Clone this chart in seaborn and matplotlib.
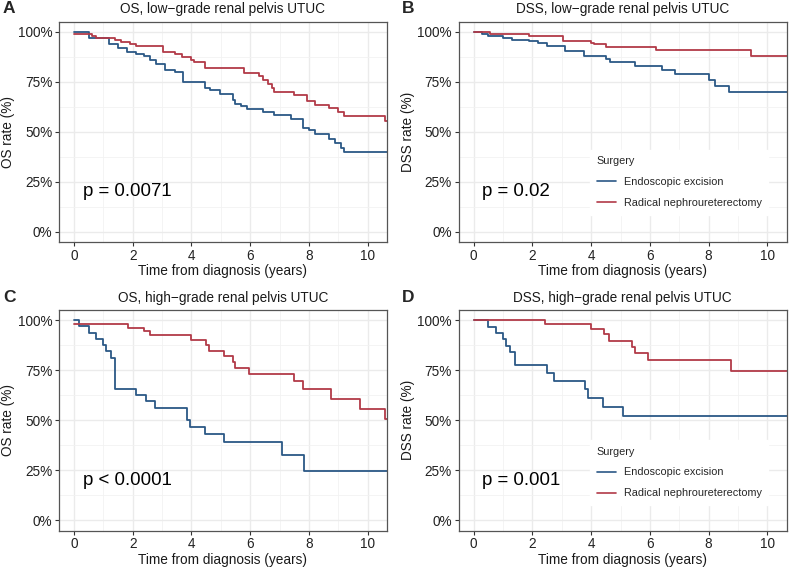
import matplotlib
matplotlib.use("Agg")
import matplotlib.pyplot as plt
from matplotlib.ticker import MultipleLocator, FuncFormatter
import numpy as np
import pandas as pd
import seaborn as sns

# datos (tiempo en anos, supervivencia en %)
groups = ["Endoscopic excision", "Radical nephroureterectomy"]
colores = {"Endoscopic excision": "#2B5886", "Radical nephroureterectomy": "#B23A48"}

os_low_endo_t = [0, 0.5, 1.2, 1.5, 1.8, 2.1, 2.4, 2.6, 2.8, 3.1, 3.45, 3.72, 4.46, 4.63, 4.97, 5.4, 5.5, 5.7, 5.9, 6.45, 6.8, 7.4, 7.8, 8.0, 8.2, 8.7, 8.9, 9.1, 9.2]
os_low_endo_s = [100, 97, 94, 92, 90, 89, 88, 86, 84, 81, 80, 75, 72, 71, 68.7, 66, 64, 63, 61.5, 60, 58.5, 56.5, 52, 51, 49, 46.5, 44.5, 42, 40]
os_low_rnu_t = [0, 0.6, 0.75, 1.4, 1.6, 1.9, 2.1, 3.04, 3.44, 3.67, 4.0, 4.09, 4.46, 5.8, 6.3, 6.45, 6.6, 6.75, 6.8, 7.5, 7.95, 8.2, 8.7, 9.0, 9.2, 10.6]
os_low_rnu_s = [98.8, 98, 97, 96, 95, 94, 93, 90, 89, 87.2, 86, 85, 82, 79.5, 78, 76, 74, 72, 70, 68.5, 65.5, 63.5, 62, 60, 58, 55.5]

dss_low_endo_t = [0, 0.3, 0.5, 1.0, 1.3, 1.9, 2.2, 2.5, 3.1, 3.75, 4.5, 4.65, 5.5, 6.4, 6.85, 8.0, 8.2, 8.7]
dss_low_endo_s = [100, 99, 98, 97, 96, 95.5, 94.5, 93, 90.5, 88, 86.5, 85, 83, 81, 79, 76, 73, 70]
dss_low_rnu_t = [0, 0.55, 1.9, 3.05, 4.0, 4.1, 4.5, 6.2, 9.45]
dss_low_rnu_s = [99.7, 98.7, 97.8, 95.5, 94.5, 93.7, 92.2, 90.8, 87.8]

os_high_endo_t = [0, 0.17, 0.5, 0.75, 1.0, 1.1, 1.25, 1.4, 2.1, 2.45, 2.75, 3.85, 3.95, 4.45, 5.1, 7.1, 7.85]
os_high_endo_s = [100, 97, 93.5, 90.5, 87.5, 84.5, 81, 65.5, 62.5, 59.5, 56, 50, 46.5, 43, 39, 32.5, 24.5]
os_high_rnu_t = [0, 1.85, 2.4, 2.6, 4.0, 4.5, 4.6, 5.1, 5.4, 5.5, 5.95, 7.5, 7.8, 8.75, 9.75, 10.6]
os_high_rnu_s = [98, 96, 94.5, 92.5, 90, 87.5, 84.5, 82, 79, 76, 73, 69.5, 65.5, 60.5, 55.5, 50.5]

dss_high_endo_t = [0, 0.5, 0.75, 1.0, 1.1, 1.25, 1.4, 2.5, 2.75, 3.8, 3.9, 4.4, 5.1]
dss_high_endo_s = [100, 96.5, 93.5, 90.5, 87, 84, 77.5, 73.5, 69.5, 65.5, 61, 56.5, 52]
dss_high_rnu_t = [0, 2.42, 4.0, 4.45, 4.6, 5.4, 5.5, 5.95, 8.75]
dss_high_rnu_s = [100, 98, 95.3, 92.9, 89.7, 86.7, 83.7, 80.1, 74.6]

titulos = ["OS, low\u2212grade renal pelvis UTUC", "DSS, low\u2212grade renal pelvis UTUC",
           "OS, high\u2212grade renal pelvis UTUC", "DSS, high\u2212grade renal pelvis UTUC"]
letras = ["A", "B", "C", "D"]
ylabels = ["OS rate (%)", "DSS rate (%)", "OS rate (%)", "DSS rate (%)"]
pvalores = ["p = 0.0071", "p = 0.02", "p < 0.0001", "p = 0.001"]

curvas = [
    (os_low_endo_t, os_low_endo_s, os_low_rnu_t, os_low_rnu_s),
    (dss_low_endo_t, dss_low_endo_s, dss_low_rnu_t, dss_low_rnu_s),
    (os_high_endo_t, os_high_endo_s, os_high_rnu_t, os_high_rnu_s),
    (dss_high_endo_t, dss_high_endo_s, dss_high_rnu_t, dss_high_rnu_s),
]

x_fin = 10.65

sns.set_theme(style="white")
plt.rcParams['font.family'] = ['Liberation Sans', 'DejaVu Sans']

fig = plt.figure(figsize=(7.89, 5.69), dpi=100)
W, H = 789, 569
# posiciones en pixeles: izquierda, arriba, derecha, abajo
cajas = [(59.3, 21.7, 386.7, 241.7), (459, 21.7, 786.5, 241.7),
         (59.3, 310, 386.7, 530.5), (459, 310, 786.5, 530.5)]
letra_x = [3, 402, 3, 402]

def hacer_df(te, se, tr, sr):
    filas = []
    for t, s, g in [(te, se, groups[0]), (tr, sr, groups[1])]:
        tt = list(t) + [x_fin]
        ss = list(s) + [s[-1]]
        for a, b in zip(tt, ss):
            filas.append({"tiempo": a, "surv": b, "Surgery": g})
    return pd.DataFrame(filas)

for i in range(4):
    l, t, r, b = cajas[i]
    ax = fig.add_axes([l / W, 1 - b / H, (r - l) / W, (b - t) / H])
    df = hacer_df(*curvas[i])
    sns.lineplot(data=df, x="tiempo", y="surv", hue="Surgery", palette=colores,
                 drawstyle="steps-post", estimator=None, sort=False, lw=1.3,
                 ax=ax, legend=(i in (1, 3)))
    ax.set_xlim(-0.5, x_fin)
    ax.set_ylim(-5, 105)
    ax.xaxis.set_major_locator(MultipleLocator(2))
    ax.xaxis.set_minor_locator(MultipleLocator(1))
    ax.yaxis.set_major_locator(MultipleLocator(25))
    ax.yaxis.set_minor_locator(MultipleLocator(12.5))
    ax.yaxis.set_major_formatter(FuncFormatter(lambda v, p: "%d%%" % v))
    ax.grid(which="major", color="#EBEBEB", lw=1.0)
    ax.grid(which="minor", color="#F2F2F2", lw=0.6)
    ax.set_axisbelow(True)
    for sp in ax.spines.values():
        sp.set_color("#555555")
        sp.set_linewidth(0.9)
    ax.tick_params(axis="both", which="major", length=3, width=0.8, color="#333333",
                   labelsize=9.8, labelcolor="#222222", pad=2, bottom=True, left=True)
    ax.tick_params(which="minor", length=0)
    ax.set_xlabel("Time from diagnosis (years)", fontsize=9.8, color="#1a1a1a", labelpad=1)
    ax.set_ylabel(ylabels[i], fontsize=9.8, color="#1a1a1a", labelpad=2)
    ax.set_title(titulos[i], fontsize=9.8, color="#1a1a1a", pad=6)
    ax.text(0.3, 20, pvalores[i], fontsize=13.4, ha="left", va="center", color="black")
    fig.text(letra_x[i] / W, 1 - (t - 13) / H, letras[i], fontsize=12.5, fontweight="bold",
             ha="left", va="center")
    if i in (1, 3):
        bottom = 0.099 if i == 1 else 0.092
        leg = ax.legend(title="Surgery", loc="lower left", bbox_to_anchor=(0.384, bottom),
                        fontsize=7.8, title_fontsize=7.8, frameon=True, fancybox=False,
                        framealpha=1, facecolor="white", edgecolor="white",
                        handlelength=1.8, labelspacing=1.0, handletextpad=0.7,
                        borderpad=0.6)
        leg._legend_box.align = "left"
        for ln in leg.get_lines():
            ln.set_linewidth(1.2)

fig.savefig("out.png", dpi=100)
